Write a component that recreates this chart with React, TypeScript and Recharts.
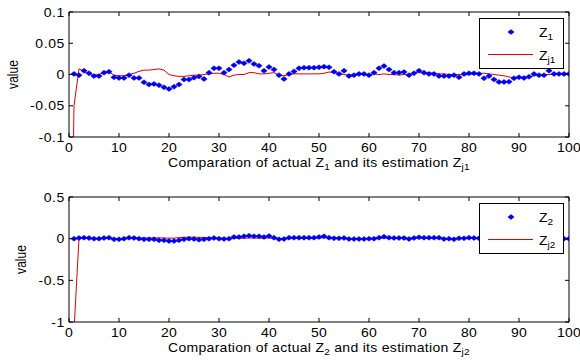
import React from 'react';
import { ComposedChart, Line, XAxis, YAxis, ReferenceLine } from 'recharts';

// ---------- data ----------
const xIndex = [
  0, 1, 2, 3, 4, 5, 6, 7, 8, 9, 10, 11, 12, 13, 14, 15, 16, 17, 18, 19, 20,
  21, 22, 23, 24, 25, 26, 27, 28, 29, 30, 31, 32, 33, 34, 35, 36, 37, 38, 39, 40,
  41, 42, 43, 44, 45, 46, 47, 48, 49, 50, 51, 52, 53, 54, 55, 56, 57, 58, 59, 60,
  61, 62, 63, 64, 65, 66, 67, 68, 69, 70, 71, 72, 73, 74, 75, 76, 77, 78, 79, 80,
  81, 82, 83, 84, 85, 86, 87, 88, 89, 90, 91, 92, 93, 94, 95, 96, 97, 98, 99, 100,
];

const z1Values = [
  null,
  0.001, -0.001, 0.006, 0.002, -0.0025, -0.0025, 0.003, 0.0045, -0.0045, -0.0055,
  -0.0055, -0.001, -0.0055, -0.0055, -0.0125, -0.016, -0.015, -0.017, -0.0205, -0.023,
  -0.0195, -0.016, -0.008, -0.008, -0.005, -0.003, -0.007, 0.003, 0.01, 0.01,
  0.003, 0.008, 0.015, 0.02, 0.018, 0.022, 0.017, 0.014, 0.006, 0.012,
  0.008, -0.001, -0.007, 0.001, 0.005, 0.01, 0.011, 0.011, 0.011, 0.0115,
  0.0125, 0.0115, 0.0045, 0.001, 0.006, -0.0025, -0.001, 0.001, 0.001, -0.001,
  0.003, 0.01, 0.0135, 0.008, 0.003, 0.003, 0.004, -0.001, 0.002, 0.006,
  0.003, 0.001, 0.001, -0.0025, -0.0025, -0.0025, -0.001, -0.0045, 0.001, 0.002,
  0.002, 0.001, -0.006, -0.0025, -0.008, -0.012, -0.012, -0.0115, -0.006, -0.0045,
  -0.0055, -0.0035, 0.001, -0.001, -0.001, 0.006, 0.001, 0.001, 0.001, 0.001,
];

const zj1Values = [
  -0.6,
  -0.05, 0.009, 0.005, 0.0, -0.001, 0.0, 0.003, 0.004, -0.001, -0.002,
  -0.002, 0.0, 0.002, 0.005, 0.007, 0.007, 0.008, 0.009, 0.007, 0.0,
  -0.002, -0.003, -0.003, -0.002, -0.001, -0.001, 0.0, 0.001, 0.002, 0.002,
  0.0, -0.004, -0.001, 0.0, 0.0, 0.003, 0.003, 0.001, 0.001, 0.002,
  0.003, -0.001, -0.002, 0.0, 0.001, 0.001, 0.001, 0.001, 0.001, 0.001,
  0.002, 0.004, 0.003, 0.002, 0.0, -0.001, 0.0, 0.001, 0.0, 0.0,
  0.001, 0.0, 0.001, 0.0, 0.0, -0.001, 0.0, 0.0, 0.003, 0.004,
  0.003, 0.003, 0.002, 0.001, 0.001, 0.0, 0.0, 0.0, -0.001, 0.0,
  0.001, 0.002, 0.002, 0.001, 0.0, -0.001, -0.002, -0.004, -0.005, -0.005,
  -0.005, -0.004, -0.002, 0.0, 0.0, 0.0, 0.0, 0.0, 0.0, 0.0,
];

const z2Values = [
  null,
  0, 0.008, 0.012, 0.008, 0, 0, 0.008, 0.012, -0.008, -0.008,
  0, 0.012, 0.008, 0, -0.008, -0.008, -0.008, -0.02, -0.02, -0.028,
  -0.028, -0.02, -0.008, 0, -0.004, -0.012, -0.008, 0, 0.008, 0,
  -0.004, 0, 0.02, 0.02, 0.028, 0.036, 0.028, 0.028, 0.02, 0.032,
  0.012, -0.008, -0.004, 0.012, 0.012, 0.012, 0.012, 0.012, 0.012, 0.02,
  0.028, 0.012, 0.004, 0.004, 0.008, -0.004, -0.004, -0.004, -0.004, 0,
  0, 0.012, 0.024, 0.012, 0.008, 0.008, 0.008, -0.004, 0.008, 0.016,
  0.012, 0.012, 0.012, 0.012, -0.004, 0, -0.008, 0.004, 0.004, 0.012,
  0.008, 0.004, -0.008, -0.004, -0.012, -0.02, -0.02, -0.02, -0.008, -0.008,
  -0.008, -0.004, 0.004, 0, 0, 0.012, 0.004, 0.004, 0, 0,
];

const zj2Values = [
  -3,
  -1.1, 0.004, 0.004, 0.002, 0.002, 0.004, 0.006, 0.002, 0, 0,
  0.002, 0.004, 0.006, 0.008, 0.008, 0.008, 0.01, 0.01, 0.008, 0.006,
  0.006, 0.012, 0.016, 0.018, 0.018, 0.016, 0.014, 0.012, 0.01, 0.008,
  0.006, 0.002, 0.002, 0.004, 0.006, 0.008, 0.008, 0.006, 0.006, 0.008,
  0.006, 0.002, 0.002, 0.004, 0.006, 0.006, 0.006, 0.006, 0.006, 0.008,
  0.01, 0.01, 0.008, 0.006, 0.004, 0.002, 0.002, 0.002, 0.002, 0.002,
  0.004, 0.006, 0.008, 0.008, 0.006, 0.004, 0.004, 0.004, 0.006, 0.008,
  0.008, 0.008, 0.006, 0.004, 0.002, 0.002, 0.002, 0.002, 0.004, 0.004,
  0.004, 0.004, 0.002, 0, -0.004, -0.006, -0.008, -0.008, -0.006, -0.004,
  -0.004, -0.002, 0, 0, 0.002, 0.004, 0.004, 0.002, 0.002, 0.002,
];

const xTicks = [0, 10, 20, 30, 40, 50, 60, 70, 80, 90, 100];
const yTicks1 = [-0.1, -0.05, 0, 0.05, 0.1];
const yTicks2 = [-1, -0.5, 0, 0.5];

const data1 = xIndex.map((x, i) => ({ x, z: z1Values[i], zj: zj1Values[i] }));
const data2 = xIndex.map((x, i) => ({ x, z: z2Values[i], zj: zj2Values[i] }));

// ---------- styling ----------
const FONT = '"Liberation Sans", Arial, sans-serif';
const SY = 0.86; // vertical squash of the original picture
const BLUE = '#0000f0';
const RED = '#e00000';
const PLOT_W = 500;
const PLOT_H = 125;

function SText({ x, y, size = 14, anchor = 'start', rotate = 0, spacing = 0, children }: any) {
  const tr = `translate(${x},${y}) scale(1,${SY})` + (rotate ? ` rotate(${rotate})` : '');
  return (
    <text transform={tr} x={0} y={0} fontSize={size} fontFamily={FONT} fill="#000" textAnchor={anchor} letterSpacing={spacing}>
      {children}
    </text>
  );
}

function XTick(props: any) {
  const { x, y, payload } = props;
  return (
    <g>
      <line x1={x} x2={x} y1={y} y2={y - 4} stroke="#000" />
      <line x1={x} x2={x} y1={y - PLOT_H} y2={y - PLOT_H + 4} stroke="#000" />
      <SText x={x} y={y + 15} anchor="middle" spacing={0.3}>{String(payload.value)}</SText>
    </g>
  );
}

function YTick(props: any) {
  const { x, y, payload } = props;
  return (
    <g>
      <line x1={x} x2={x + 4} y1={y} y2={y} stroke="#000" />
      <line x1={x + PLOT_W} x2={x + PLOT_W - 4} y1={y} y2={y} stroke="#000" />
      <SText x={x - 4} y={y + 4.5} anchor="end" spacing={0.6}>{String(payload.value)}</SText>
    </g>
  );
}

function Star(props: any) {
  const { cx, cy, value } = props;
  if (cx == null || cy == null || value == null) return <g />;
  return (
    <path
      d={`M${cx - 3.2},${cy} L${cx},${cy - 2.5} L${cx + 3.2},${cy} L${cx},${cy + 2.5} Z`}
      fill={BLUE}
      stroke={BLUE}
      strokeWidth={0.5}
    />
  );
}

function XLabel({ viewBox, sub1, sub2 }: any) {
  const cx = viewBox.x + viewBox.width / 2;
  const y = viewBox.y + 30;
  return (
    <SText x={cx} y={y} anchor="middle" spacing={0.3}>
      Comparation of actual Z
      <tspan dy={4} fontSize={10}>{sub1}</tspan>
      <tspan dy={-4}> and its estimation Z</tspan>
      <tspan dy={4} fontSize={10}>{sub2}</tspan>
    </SText>
  );
}

function YLabel({ viewBox, lx }: any) {
  const cy = viewBox.y + viewBox.height / 2;
  return (
    <SText x={lx} y={cy} anchor="middle" rotate={-90}>value</SText>
  );
}

function LegendBox({ top, sub1, sub2 }: any) {
  return (
    <svg width={580} height={180} style={{ position: 'absolute', left: 0, top: 0, pointerEvents: 'none' }}>
      <rect x={479.5} y={top + 0.5} width={84} height={50} fill="#fff" stroke="#000" />
      <path d={`M507.8,${top + 14} L511,${top + 11.5} L514.2,${top + 14} L511,${top + 16.5} Z`} fill={BLUE} stroke={BLUE} strokeWidth={0.5} />
      <SText x={539} y={top + 19}>
        Z<tspan dy={4} fontSize={10}>{sub1}</tspan>
      </SText>
      <line x1={488} x2={533} y1={top + 36.5} y2={top + 36.5} stroke={RED} />
      <SText x={539} y={top + 42}>
        Z<tspan dy={4} fontSize={10}>{sub2}</tspan>
      </SText>
    </svg>
  );
}

function Panel({ data, yTicks, domain, top, xAxisH, yLabelX, sub1, sub2, legendTop }: any) {
  return (
    <div style={{ position: 'absolute', left: 0, top, width: 580, height: 180 }}>
      <ComposedChart width={580} height={180} data={data} margin={{ top: 180 - xAxisH - PLOT_H, right: 11, bottom: 0, left: 0 }}>
        <XAxis
          dataKey="x"
          type="number"
          domain={[0, 100]}
          ticks={xTicks}
          interval={0}
          allowDataOverflow
          height={xAxisH}
          tickSize={0}
          tickMargin={0}
          tickLine={false}
          axisLine={{ stroke: '#000' }}
          tick={(p: any) => <XTick {...p} />}
          label={(p: any) => <XLabel {...p} sub1={sub1} sub2={sub2} />}
        />
        <YAxis
          type="number"
          domain={domain}
          ticks={yTicks}
          interval={0}
          allowDataOverflow
          width={69}
          tickSize={0}
          tickMargin={0}
          tickLine={false}
          axisLine={{ stroke: '#000' }}
          tick={(p: any) => <YTick {...p} />}
          label={(p: any) => <YLabel {...p} lx={yLabelX} />}
        />
        <ReferenceLine y={domain[1]} stroke="#000" />
        <ReferenceLine x={100} stroke="#000" />
        <Line
          dataKey="z"
          stroke="none"
          isAnimationActive={false}
          dot={(p: any) => <Star key={`s${p.index}`} {...p} />}
          activeDot={false}
          legendType="none"
        />
        <Line
          dataKey="zj"
          type="linear"
          stroke={RED}
          strokeWidth={1}
          dot={false}
          activeDot={false}
          isAnimationActive={false}
        />
      </ComposedChart>
      <LegendBox top={legendTop} sub1={sub1} sub2={sub2} />
    </div>
  );
}

export default function App() {
  return (
    <div style={{ position: 'absolute', left: 0, top: 0, width: 580, height: 360, background: '#fff' }}>
      <Panel data={data1} yTicks={yTicks1} domain={[-0.1, 0.1]} top={0} xAxisH={43} yLabelX={18} sub1="1" sub2="j1" legendTop={18} />
      <Panel data={data2} yTicks={yTicks2} domain={[-1, 0.5]} top={180} xAxisH={38} yLabelX={26} sub1="2" sub2="j2" legendTop={23} />
    </div>
  );
}
